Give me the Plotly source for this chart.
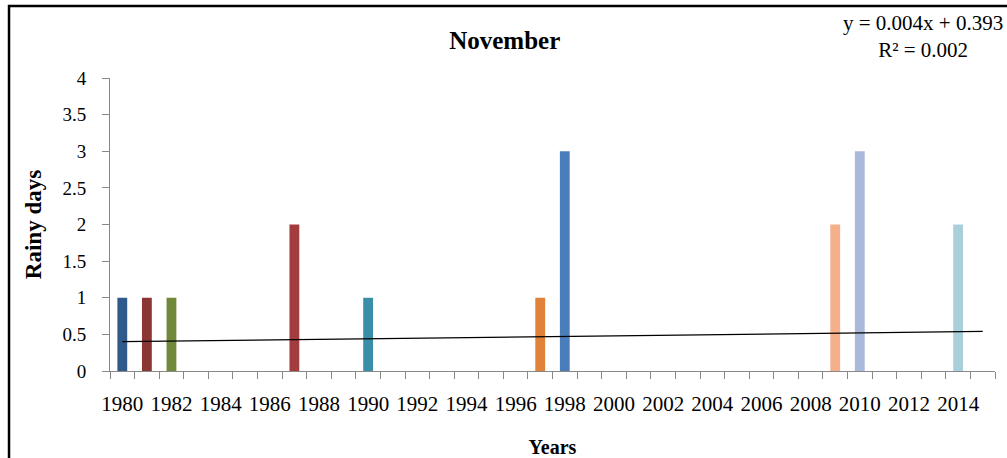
import plotly.graph_objects as go

# Data
years = [1980, 1981, 1982, 1987, 1990, 1997, 1998, 2009, 2010, 2014]
rainy_days = [1, 1, 1, 2, 1, 1, 3, 2, 3, 2]
bar_colors = ['#2F5A8C', '#8B3535', '#71893A', '#A33D3D', '#3A8EA8',
              '#E0823A', '#4A7EBB', '#F5B08A', '#A9B9D9', '#A8CFDA']

trend_years = [1980, 2015]
trend_values = [0.40, 0.54]

first_year, last_year = 1980, 2015
tick_years = list(range(first_year, last_year, 2))
# category boundaries for the small tick marks
boundaries = [y - 0.5 for y in range(first_year, last_year + 2)]

fig = go.Figure(
    layout=go.Layout(
        template='simple_white',
        width=1007,
        height=458,
        margin=dict(l=110, r=12, t=78, b=87),
        plot_bgcolor='white',
        paper_bgcolor='white',
        font=dict(family='Liberation Serif', color='black'),
        showlegend=False,
    ))

fig.add_trace(go.Bar(x=years, y=rainy_days, width=0.4,
                     marker=dict(color=bar_colors, line=dict(width=0))))
fig.add_trace(go.Scatter(x=trend_years, y=trend_values, mode='lines',
                         line=dict(color='black', width=1.3)))

fig.update_xaxes(range=[first_year - 0.5, last_year + 0.5], automargin=False,
                 tickvals=tick_years, ticktext=[str(y) for y in tick_years],
                 ticks='', tickfont=dict(size=21), ticklabelstandoff=14,
                 showline=True, linecolor='#888888', linewidth=1,
                 minor=dict(tickvals=boundaries, ticks='outside', ticklen=7,
                            tickcolor='#888888', tickwidth=1),
                 title=dict(text='<b>Years</b>', font=dict(size=20), standoff=36),
                 showgrid=False, zeroline=False)
fig.update_yaxes(range=[0, 4], dtick=0.5, ticks='outside', ticklen=7, automargin=False,
                 tickcolor='#888888', tickfont=dict(size=19), ticklabelstandoff=12,
                 showline=True, linecolor='#888888', linewidth=1,
                 title=dict(text='<b>Rainy days</b>', font=dict(size=23), standoff=14),
                 showgrid=False, zeroline=False)

fig.update_layout(
    title=dict(text='<b>November</b>', font=dict(size=25),
               xref='paper', x=0.446, xanchor='center',
               yref='container', y=0.913, yanchor='middle'),
    hovermode=False,
)

# Trendline equation
fig.add_annotation(xref='paper', yref='paper', x=0.919, y=1.143,
                   xanchor='center', yanchor='middle',
                   text='y = 0.004x + 0.393<br>R² = 0.002', showarrow=False,
                   font=dict(size=21), align='center')

# Chart border (cropped at right and bottom)
fig.add_shape(type='rect', xref='paper', yref='paper',
              x0=-0.1141, x1=1.1, y0=-0.5, y1=1.2457,
              fillcolor='rgba(0,0,0,0)', opacity=1,
              line=dict(color='black', width=2.5), layer='below')

fig.write_html('out.html', config={'displayModeBar': False},
               post_script="document.body.style.margin='0';")
